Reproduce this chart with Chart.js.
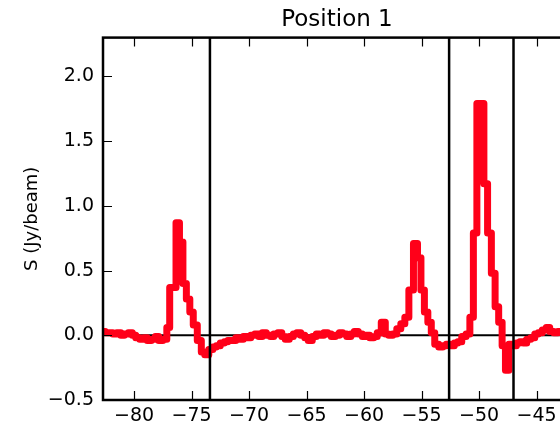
<!DOCTYPE html>
<html>
<head>
<meta charset="utf-8">
<script src="https://cdn.jsdelivr.net/npm/chart.js@4/dist/chart.umd.min.js"></script>
<style>
  html, body { margin: 0; padding: 0; background: #fff; overflow: hidden; }
  #wrap { position: relative; width: 600px; height: 429px; }
</style>
</head>
<body>
<div id="wrap"><canvas id="specChart"></canvas></div>
<script>
// spectrum at position 1
const velocity = [
  -83.0, -82.7, -82.3, -82.0, -81.7, -81.3, -81.0, -80.7, -80.3, -80.0,
  -79.7, -79.3, -79.0, -78.7, -78.3, -78.0, -77.7, -77.3, -77.0, -76.8,
  -76.5, -76.2, -75.9, -75.6, -75.3, -75.0, -74.7, -74.3, -74.0, -73.7,
  -73.3, -73.0, -72.7, -72.3, -72.0, -71.7, -71.3, -71.0, -70.7, -70.3,
  -70.0, -69.7, -69.3, -69.0, -68.7, -68.3, -68.0, -67.7, -67.3, -67.0,
  -66.7, -66.3, -66.0, -65.7, -65.3, -65.0, -64.7, -64.3, -64.0, -63.7,
  -63.3, -63.0, -62.7, -62.3, -62.0, -61.7, -61.3, -61.0, -60.7, -60.3,
  -60.0, -59.7, -59.3, -59.0, -58.7, -58.3, -58.0, -57.7, -57.3, -57.0,
  -56.6, -56.3, -55.9, -55.5, -55.2, -54.9, -54.6, -54.3, -54.0, -53.7,
  -53.3, -53.0, -52.7, -52.3, -52.0, -51.7, -51.3, -50.95, -50.64, -50.34,
  -50.03, -49.73, -49.42, -49.09, -48.76, -48.44, -48.14, -47.84, -47.56, -47.25,
  -46.9, -46.6, -46.3, -46.0, -45.7, -45.3, -45.0, -44.7, -44.3, -44.0,
  -43.7, -43.3, -43.0, -42.7, -42.3, -42.0
];
const flux = [
  0.02, 0.03, 0.02, 0.02, 0.01, 0.02, 0.00, 0.01, 0.02, 0.00,
  -0.02, -0.03, -0.02, -0.04, -0.03, -0.01, -0.04, -0.03, 0.06, 0.37,
  0.37, 0.87, 0.72, 0.40, 0.28, 0.18, 0.08, -0.04, -0.13, -0.15,
  -0.11, -0.09, -0.08, -0.06, -0.05, -0.04, -0.04, -0.02, -0.03, -0.01,
  -0.02, 0.00, 0.01, -0.01, 0.02, 0.00, -0.01, 0.01, 0.02, -0.01,
  -0.03, -0.01, 0.01, 0.02, 0.00, -0.02, -0.04, -0.01, 0.01, 0.00,
  0.02, 0.01, -0.01, 0.00, 0.02, 0.01, -0.01, 0.01, 0.03, 0.01,
  -0.01, 0.00, -0.02, -0.01, 0.02, 0.10, 0.01, 0.00, 0.01, 0.05,
  0.09, 0.14, 0.35, 0.71, 0.60, 0.35, 0.18, 0.10, 0.02, -0.07,
  -0.09, -0.08, -0.07, -0.08, -0.06, -0.05, -0.01, 0.01, 0.14, 0.79,
  1.79, 1.79, 1.17, 0.79, 0.48, 0.22, 0.10, -0.08, -0.27, -0.07,
  -0.08, -0.06, -0.05, -0.06, -0.03, -0.02, 0.01, 0.02, 0.04, 0.06,
  0.03, 0.02, 0.03, 0.02, 0.03, 0.02
];
const markerLines = [-73.4, -52.6, -47.0];   // vertical lines
const xTicks = [-80, -75, -70, -65, -60, -55, -50, -45];
const yTicks = [-0.5, 0.0, 0.5, 1.0, 1.5, 2.0];
const xMin = -82.7, xMax = -42.0;
const yMin = -0.5, yMax = 2.3;

const fontFam = '"DejaVu Sans", sans-serif';
const fmtMinus = v => String(v).replace('-', '\u2212');

const specPoints = velocity.map((v, i) => ({x: v, y: flux[i]}));

const datasets = [{
    label: 'zero',
    data: [{x: xMin, y: 0}, {x: xMax, y: 0}],
    borderColor: '#000',
    borderWidth: 2,
    pointRadius: 0,
    order: 3
}, {
    label: 'S',
    data: specPoints,
    borderColor: 'rgb(255,0,25)',
    borderWidth: 7,
    pointRadius: 0,
    stepped: 'middle',
    borderJoinStyle: 'round',
    borderCapStyle: 'round',
    order: 2
}];
markerLines.forEach(v => {
    datasets.push({
        label: 'v' + v,
        data: [{x: v, y: yMin}, {x: v, y: yMax}],
        borderColor: '#000',
        borderWidth: 2.5,
        pointRadius: 0,
        order: 1
    });
});

// matplotlib-like frame with inward ticks
const framePlugin = {
    id: 'frame',
    afterDatasetsDraw(chart) {
        const {ctx, chartArea: a, scales} = chart;
        ctx.save();
        ctx.strokeStyle = '#000';
        ctx.lineWidth = 1.2;
        ctx.beginPath();
        xTicks.forEach(t => {
            const px = Math.round(scales.x.getPixelForValue(t)) + 0.5;
            ctx.moveTo(px, a.bottom); ctx.lineTo(px, a.bottom - 9);
            ctx.moveTo(px, a.top); ctx.lineTo(px, a.top + 9);
        });
        yTicks.forEach(t => {
            const py = Math.round(scales.y.getPixelForValue(t)) + 0.5;
            ctx.moveTo(a.left, py); ctx.lineTo(a.left + 9, py);
            ctx.moveTo(a.right, py); ctx.lineTo(a.right - 9, py);
        });
        ctx.stroke();
        ctx.lineWidth = 2.5;
        ctx.strokeRect(a.left, a.top, a.right - a.left, a.bottom - a.top);
        ctx.restore();
    }
};

new Chart(document.getElementById('specChart'), {
    type: 'line',
    data: {datasets: datasets},
    options: {
        responsive: true,
        maintainAspectRatio: false,
        animation: false,
        layout: {padding: {left: 0, right: 29, top: 0, bottom: 0}},
        plugins: {
            legend: {display: false},
            tooltip: {enabled: false},
            title: {
                display: true,
                text: 'Position 1',
                fullSize: false,
                color: '#000',
                font: {family: fontFam, size: 23, weight: 'normal'},
                padding: {top: 6, bottom: 4}
            }
        },
        scales: {
            x: {
                type: 'linear',
                min: xMin,
                max: xMax,
                grid: {display: false, drawTicks: false},
                border: {display: false},
                afterBuildTicks: s => { s.ticks = xTicks.map(v => ({value: v})); },
                afterFit: s => { s.height = 29; },
                ticks: {
                    color: '#000',
                    padding: 5,
                    maxRotation: 0,
                    font: {family: fontFam, size: 19},
                    callback: v => fmtMinus(v)
                }
            },
            y: {
                type: 'linear',
                min: yMin,
                max: yMax,
                grid: {display: false, drawTicks: false},
                border: {display: false},
                afterBuildTicks: s => { s.ticks = yTicks.map(v => ({value: v})); },
                afterFit: s => { s.width = 103; },
                title: {
                    display: true,
                    text: 'S (Jy/beam)',
                    color: '#000',
                    font: {family: fontFam, size: 18},
                    padding: {top: 22, bottom: 0}
                },
                ticks: {
                    color: '#000',
                    padding: 9,
                    font: {family: fontFam, size: 19},
                    callback: v => fmtMinus(Number(v).toFixed(1))
                }
            }
        }
    },
    plugins: [framePlugin]
});
</script>
</body>
</html>
